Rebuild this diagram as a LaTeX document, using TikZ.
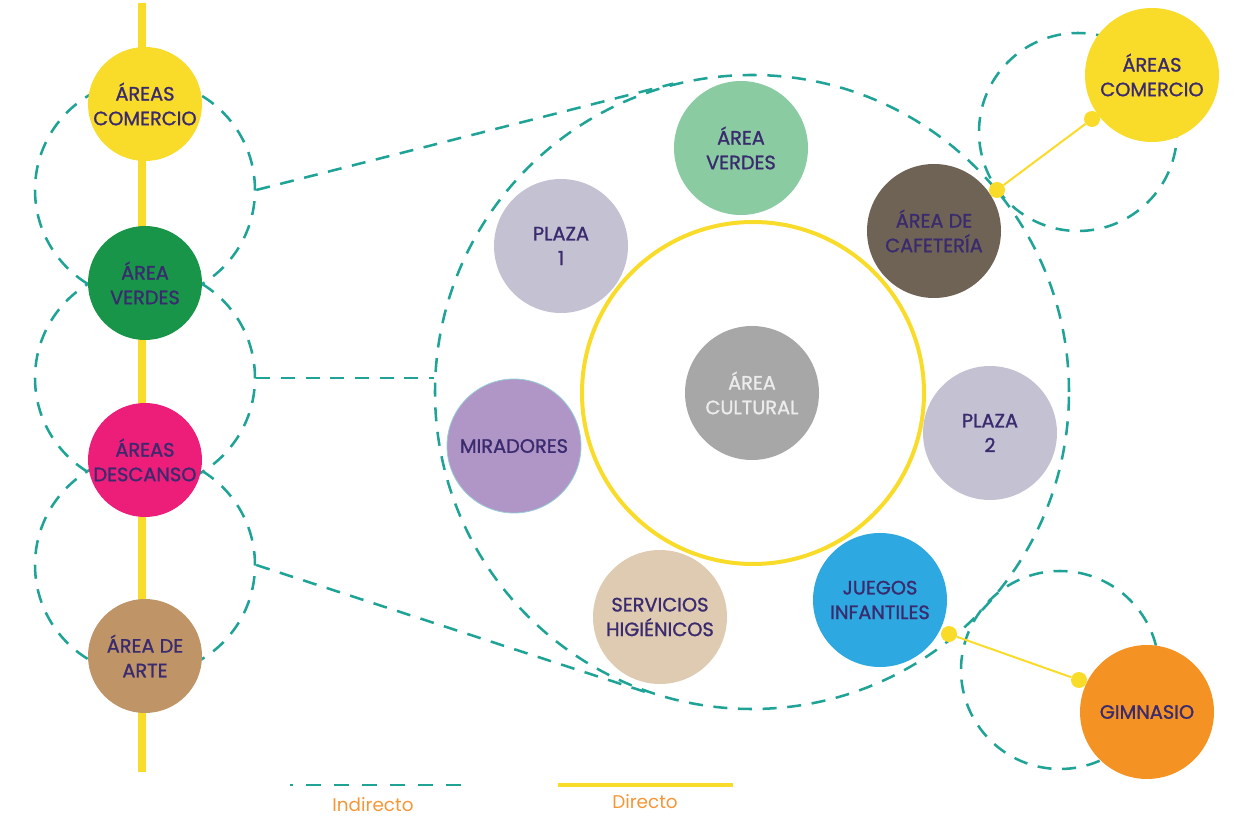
\documentclass[tikz,border=0pt]{standalone}
\usepackage{fontspec}
\setmainfont{Poppins}
\newfontfamily\zonafuente{Poppins}[FakeBold=1.2]
\usetikzlibrary{calc}

\definecolor{amarillo}{RGB}{249,219,42}
\definecolor{verdeazul}{RGB}{30,163,150}
\definecolor{tinta}{RGB}{58,42,110}
\definecolor{verdeoscuro}{RGB}{24,149,73}
\definecolor{rosa}{RGB}{236,30,121}
\definecolor{arte}{RGB}{191,149,104}
\definecolor{verdeclaro}{RGB}{138,203,162}
\definecolor{lila}{RGB}{196,193,211}
\definecolor{cafe}{RGB}{110,99,85}
\definecolor{morado}{RGB}{176,150,198}
\definecolor{celeste}{RGB}{150,205,215}
\definecolor{arena}{RGB}{223,203,178}
\definecolor{azulcielo}{RGB}{46,168,224}
\definecolor{naranja}{RGB}{244,147,36}
\definecolor{gris}{RGB}{166,167,166}
\definecolor{grisclaro}{RGB}{236,236,236}
\definecolor{naranjaley}{RGB}{245,150,56}

\tikzset{
  zona/.style={circle, minimum size=100.5pt, inner sep=0pt, align=center, text=tinta, font=\zonafuente\fontsize{14.5}{18.5}\selectfont},
  zonachica/.style={zona, minimum size=85.5pt},
  lazo/.style={circle, inner sep=0pt, draw=verdeazul, line width=1.9pt, dash pattern=on 10.5pt off 8pt},
  indirecto/.style={draw=verdeazul, line width=1.9pt, dash pattern=on 10.5pt off 8pt},
  directo/.style={draw=amarillo, line width=1.5pt},
  punto/.style={circle, fill=amarillo, minimum size=12pt, inner sep=0pt},
  leyenda/.style={text=naranjaley, inner sep=0.75pt, font=\fontsize{13.8}{16}\selectfont},
}

\begin{document}
\begin{tikzpicture}[x=0.75pt,y=0.75pt,yscale=-1,xscale=1]
\useasboundingbox (0,0) rectangle (1243,816);

%Straight Lines: eje de la izquierda
\coordinate (ejeA) at (142,3);
\coordinate (ejeB) at (142,772);
\draw [amarillo, line width=6pt] (ejeA) -- (ejeB);

%Shape: Circle (lazos indirectos)
\node [lazo, minimum size=165pt] (lazo1) at (145,190) {};
\node [lazo, minimum size=165pt] (lazo2) at (145,378) {};
\node [lazo, minimum size=165pt] (lazo3) at (145,565) {};
\node [lazo, minimum size=475.5pt] (anillo) at (752,392) {};
\node [lazo, minimum size=148.5pt] (lazo4) at (1078,132) {};
\node [lazo, minimum size=148.5pt] (lazo5) at (1060,670) {};

%Straight Lines: lazos hacia el anillo
\draw [indirecto] (lazo1.east) -- (tangent cs:node=anillo,point={(lazo1.east)},solution=2);
\draw [indirecto] (lazo2.east) -- (lazo2.east -| anillo.west);
\draw [indirecto] (lazo3.east) -- (tangent cs:node=anillo,point={(lazo3.east)},solution=1);

%Shape: Circle (nucleo)
\node [circle, draw=amarillo, line width=3pt, minimum size=256.5pt] (nucleo) at (753,393) {};

% Text Node
\node [zona, fill=gris, text=grisclaro] (cultural) at (752,393) {ÁREA\\CULTURAL};
\node [zona, fill=verdeclaro] (verdes2) at (741,148) {ÁREA\\VERDES};
\node [zona, fill=lila] (plaza1) at (561,246) {PLAZA\\1};
\node [zona, fill=cafe] (cafeteria) at (934,231) {ÁREA DE\\CAFETERÍA};
\node [zona, fill=morado, draw=celeste, line width=0.6pt] (miradores) at (514,446) {MIRADORES};
\node [zona, fill=lila] (plaza2) at (990,433) {PLAZA\\2};
\node [zona, fill=arena] (servicios) at (660,617) {SERVICIOS\\HIGIÉNICOS};
\node [zona, fill=azulcielo] (juegos) at (880,600) {JUEGOS\\INFANTILES};
\node [zona, fill=amarillo] (comercio2) at (1152,75) {ÁREAS\\COMERCIO};
\node [zona, fill=naranja] (gimnasio) at (1147,712) {GIMNASIO};

% Text Node
\node [zonachica, fill=amarillo] (comercio1) at (145,104) {ÁREAS\\COMERCIO};
\node [zonachica, fill=verdeoscuro] (verdes1) at (145,283) {ÁREA\\VERDES};
\node [zonachica, fill=rosa] (descanso) at (145,460) {ÁREAS\\DESCANSO};
\node [zonachica, fill=arte] (arte) at (145,656) {ÁREA DE\\ARTE};

%Shape: Circle (puntos directos)
\node [punto] (p1) at (997,190) {};
\node [punto] (p2) at (1092,119) {};
\node [punto] (p3) at (949,634) {};
\node [punto] (p4) at (1079,680) {};
\draw [directo] (p1) -- (p2);
\draw [directo] (p3) -- (p4);

%Straight Lines: leyenda
\coordinate (leyA) at (290,785);
\coordinate (leyB) at (466,785);
\coordinate (leyC) at (558,785);
\coordinate (leyD) at (733,785);
\draw [indirecto, dash pattern=on 11.25pt off 9.75pt, dash phase=9pt] (leyA) -- (leyB);
\draw [amarillo, line width=3pt] (leyC) -- (leyD);

% Text Node
\node [leyenda] (tIndirecto) at (373,805) {Indirecto};
\node [leyenda] (tDirecto) at (645,802) {Directo};

\end{tikzpicture}
\end{document}
